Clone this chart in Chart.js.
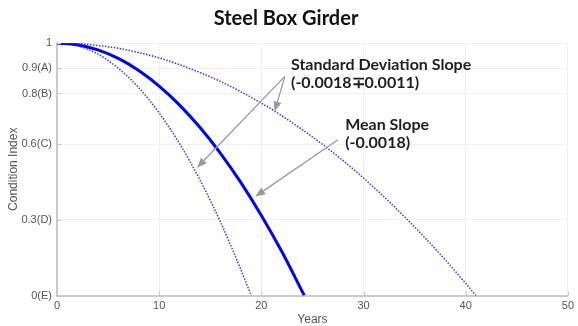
<!DOCTYPE html>
<html>
<head>
<meta charset="utf-8">
<script src="https://cdn.jsdelivr.net/npm/chart.js@4.4.1/dist/chart.umd.min.js"></script>
<style>
  html, body { margin: 0; padding: 0; background: #fff; }
  #wrap { width: 578px; height: 326px; }
</style>
</head>
<body>
<div id="wrap"><canvas id="c" width="578" height="326"></canvas></div>
<script>
// Deterioration curves for a steel box girder (condition index vs. age in years)
const meanYears  = [0, 2, 4, 6, 8, 10, 12, 14, 16, 18, 20, 22, 24, 24.2];
const meanIndex  = [1, 0.993, 0.973, 0.939, 0.891, 0.829, 0.754, 0.665, 0.563, 0.447, 0.317, 0.174, 0.016, 0];

const lowerYears = [0, 2, 4, 6, 8, 10, 12, 14, 16, 18, 19];
const lowerIndex = [1, 0.989, 0.956, 0.900, 0.823, 0.723, 0.601, 0.457, 0.291, 0.102, 0];

const upperYears = [0, 2, 4, 6, 8, 10, 12, 14, 16, 18, 20, 22, 24, 26, 28, 30, 32, 34, 36, 38, 40, 41];
const upperIndex = [1, 0.998, 0.990, 0.979, 0.962, 0.941, 0.914, 0.883, 0.848, 0.807, 0.762, 0.712,
                    0.657, 0.598, 0.534, 0.465, 0.391, 0.312, 0.229, 0.141, 0.048, 0];

// Condition-state ticks on the vertical axis
const yTickValues = [0, 0.3, 0.6, 0.8, 0.9, 1];
const yTickLabels = ['0(E)', '0.3(D)', '0.6(C)', '0.8(B)', '0.9(A)', '1'];
const xTickValues = [0, 10, 20, 30, 40, 50];

// Callout texts and arrows, anchored in data coordinates (years, index)
const notes = [
  { lines: ['Standard Deviation Slope', '(-0.0018\u22130.0011)'], at: [22.9, 0.912] },
  { lines: ['Mean Slope', '(-0.0018)'], at: [28.2, 0.675] }
];
const arrows = [
  { from: [22.3, 0.868], to: [13.7, 0.506] },
  { from: [22.3, 0.868], to: [21.3, 0.729] },
  { from: [27.5, 0.617], to: [19.4, 0.392] }
];

const pts = (xs, ys) => xs.map((x, i) => ({ x, y: ys[i] }));

const calloutPlugin = {
  id: 'callouts',
  afterDatasetsDraw(chart) {
    const { ctx, scales: { x, y }, chartArea } = chart;
    ctx.save();
    // inward tick marks on both axes
    ctx.strokeStyle = '#c4c4c4';
    ctx.lineWidth = 1;
    xTickValues.forEach(v => {
      const px = Math.round(x.getPixelForValue(v)) + 0.5;
      ctx.beginPath();
      ctx.moveTo(px, chartArea.bottom);
      ctx.lineTo(px, chartArea.bottom - 4);
      ctx.stroke();
    });
    yTickValues.forEach(v => {
      const py = Math.round(y.getPixelForValue(v)) + 0.5;
      ctx.beginPath();
      ctx.moveTo(chartArea.left, py);
      ctx.lineTo(chartArea.left + 4, py);
      ctx.stroke();
    });

    // arrows
    ctx.strokeStyle = '#9a9a9a';
    ctx.fillStyle = '#9a9a9a';
    ctx.lineWidth = 1.3;
    arrows.forEach(a => {
      const x1 = x.getPixelForValue(a.from[0]), y1 = y.getPixelForValue(a.from[1]);
      const x2 = x.getPixelForValue(a.to[0]),   y2 = y.getPixelForValue(a.to[1]);
      const ang = Math.atan2(y2 - y1, x2 - x1);
      const head = 10, half = 4;
      const bx = x2 - head * Math.cos(ang), by = y2 - head * Math.sin(ang);
      ctx.beginPath();
      ctx.moveTo(x1, y1);
      ctx.lineTo(bx, by);
      ctx.stroke();
      ctx.beginPath();
      ctx.moveTo(x2, y2);
      ctx.lineTo(bx + half * Math.sin(ang), by - half * Math.cos(ang));
      ctx.lineTo(bx - half * Math.sin(ang), by + half * Math.cos(ang));
      ctx.closePath();
      ctx.fill();
    });

    // callout text
    ctx.fillStyle = '#1e1e1e';
    ctx.font = 'bold 16px Lato, "Open Sans", sans-serif';
    ctx.textAlign = 'left';
    ctx.textBaseline = 'middle';
    notes.forEach(n => {
      const px = x.getPixelForValue(n.at[0]);
      const py = y.getPixelForValue(n.at[1]);
      n.lines.forEach((t, i) => ctx.fillText(t, px, py + i * 18));
    });
    ctx.restore();
  }
};

new Chart(document.getElementById('c'), {
  type: 'line',
  data: {
    datasets: [
      {
        label: 'Upper',
        data: pts(upperYears, upperIndex),
        borderColor: '#3535ff',
        borderWidth: 1.5,
        borderDash: [1.5, 1.5],
        pointRadius: 0,
        cubicInterpolationMode: 'monotone'
      },
      {
        label: 'Mean',
        data: pts(meanYears, meanIndex),
        borderColor: '#0000ff',
        borderWidth: 3,
        pointRadius: 0,
        cubicInterpolationMode: 'monotone'
      },
      {
        label: 'Lower',
        data: pts(lowerYears, lowerIndex),
        borderColor: '#3535ff',
        borderWidth: 1.5,
        borderDash: [1.5, 1.5],
        pointRadius: 0,
        cubicInterpolationMode: 'monotone'
      }
    ]
  },
  options: {
    responsive: false,
    animation: false,
    devicePixelRatio: 1,
    layout: { padding: { left: 0, right: 6, top: 0, bottom: 0 } },
    plugins: {
      legend: { display: false },
      tooltip: { enabled: false },
      title: {
        display: true,
        text: 'Steel Box Girder',
        color: '#111',
        font: { family: 'Lato, "Open Sans", sans-serif', size: 20, weight: 'bold' },
        padding: { top: 7, bottom: 12 }
      }
    },
    scales: {
      x: {
        type: 'linear',
        min: 0,
        max: 50,
        afterBuildTicks: s => { s.ticks = xTickValues.map(v => ({ value: v })); },
        ticks: {
          color: '#555',
          font: { family: '"Liberation Sans", Arial, sans-serif', size: 11 },
          padding: 4,
          maxRotation: 0
        },
        grid: { color: '#f0f0f0', drawTicks: false },
        border: { color: '#cacaca', width: 2 },
        title: {
          display: true,
          text: 'Years',
          color: '#555',
          font: { family: '"Liberation Sans", Arial, sans-serif', size: 12 },
          padding: { top: 0, bottom: -1 }
        },
        afterFit: s => { s.height = 30.5; }
      },
      y: {
        type: 'linear',
        min: 0,
        max: 1,
        afterBuildTicks: s => { s.ticks = yTickValues.map(v => ({ value: v })); },
        ticks: {
          color: '#555',
          font: { family: '"Liberation Sans", Arial, sans-serif', size: 11 },
          padding: 5,
          callback: v => {
            const i = yTickValues.indexOf(v);
            return i >= 0 ? yTickLabels[i] : '';
          }
        },
        grid: { color: '#f0f0f0', drawTicks: false },
        border: { color: '#cacaca', width: 2 },
        title: {
          display: true,
          text: 'Condition Index',
          color: '#555',
          font: { family: '"Liberation Sans", Arial, sans-serif', size: 12 },
          padding: { top: 6, bottom: 0 }
        },
        afterFit: s => { s.width = 57; }
      }
    }
  },
  plugins: [calloutPlugin]
});
</script>
</body>
</html>
